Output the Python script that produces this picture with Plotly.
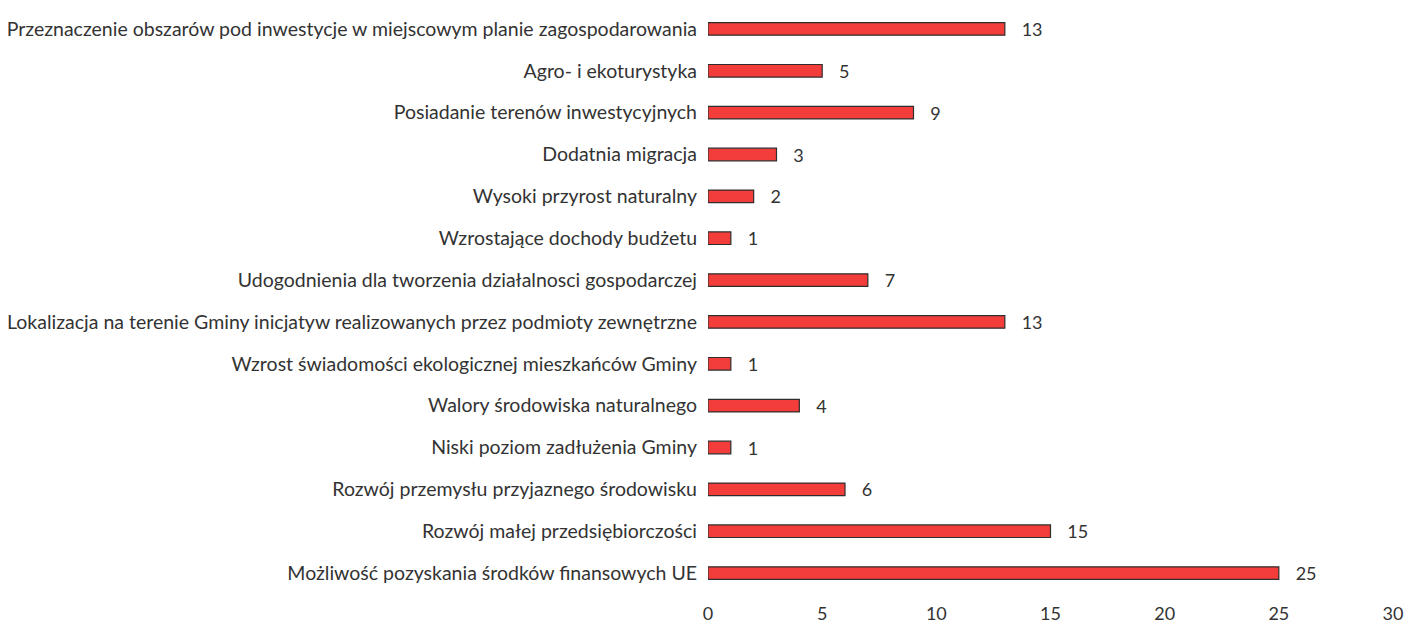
import plotly.graph_objects as go

categories = [
    "Przeznaczenie obszarów pod inwestycje w miejscowym planie zagospodarowania",
    "Agro- i ekoturystyka",
    "Posiadanie terenów inwestycyjnych",
    "Dodatnia migracja",
    "Wysoki przyrost naturalny",
    "Wzrostające dochody budżetu",
    "Udogodnienia dla tworzenia działalnosci gospodarczej",
    "Lokalizacja na terenie Gminy inicjatyw realizowanych przez podmioty zewnętrzne",
    "Wzrost świadomości ekologicznej mieszkańców Gminy",
    "Walory środowiska naturalnego",
    "Niski poziom zadłużenia Gminy",
    "Rozwój przemysłu przyjaznego środowisku",
    "Rozwój małej przedsiębiorczości",
    "Możliwość pozyskania środków finansowych UE",
]
values = [13, 5, 9, 3, 2, 1, 7, 13, 1, 4, 1, 6, 15, 25]
x_ticks = [0, 5, 10, 15, 20, 25, 30]

fig = go.Figure()

fig.add_trace(
    go.Bar(
        x=values,
        y=categories,
        orientation="h",
        width=0.3,
        marker=dict(color="#f23d3b", line=dict(color="#2e2e2e", width=1.2)),
        text=values,
        texttemplate="   %{x}",
        textposition="outside",
        constraintext="none",
        textfont=dict(size=18, color="#333333"),
        cliponaxis=False,
    )
)

# the page body adds an 8px margin on each side, so keep the figure
# small enough that the window gets no scrollbars
fig.update_layout(
    width=1397,
    height=618,
    margin=dict(l=700, r=12, t=0, b=32),
    paper_bgcolor="white",
    plot_bgcolor="white",
    showlegend=False,
    font=dict(family="Lato, Open Sans, sans-serif", color="#333333"),
    xaxis=dict(
        range=[0, 30],
        tickvals=x_ticks,
        showgrid=False,
        zeroline=False,
        showline=False,
        automargin=False,
        tickfont=dict(size=18, color="#333333"),
        ticklabelstandoff=7,
        ticklabeloverflow="allow",
    ),
    yaxis=dict(
        autorange="reversed",
        showgrid=False,
        showline=False,
        automargin=False,
        tickfont=dict(size=19.5, color="#333333"),
        ticklabelstandoff=10,
    ),
)

fig.write_html("out.html")
